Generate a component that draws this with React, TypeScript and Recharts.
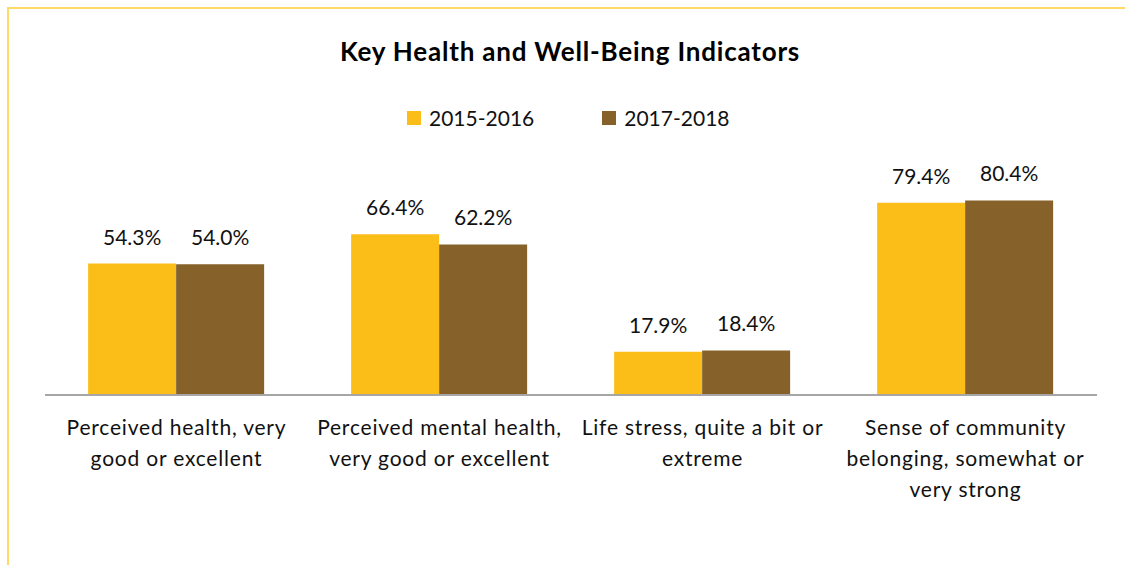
import { Bar, BarChart, LabelList, XAxis, YAxis } from 'recharts'

const categories = [
    'Perceived health, very\ngood or excellent',
    'Perceived mental health,\nvery good or excellent',
    'Life stress, quite a bit or\nextreme',
    'Sense of community\nbelonging, somewhat or\nvery strong'
]
const y2015 = [54.3, 66.4, 17.9, 79.4]
const y2017 = [54.0, 62.2, 18.4, 80.4]
const seriesNames = ['2015-2016', '2017-2018']
const colors = ['#FBBD18', '#86622A']

const data = categories.map((name, i) => ({ name, a: y2015[i], b: y2017[i] }))

const FONT = 'Lato, "Noto Sans", sans-serif'
const BORDER = '#FFD966'

const CategoryTick = ({ x, y, payload }: any) => {
    const lines = String(payload.value).split('\n')
    return (
        <text x={x} y={y} textAnchor="middle" fill="#111" fontSize={21} fontFamily={FONT} letterSpacing={0.8}>
            {lines.map((l, i) => (
                <tspan key={i} x={x} y={y + 32 + i * 31}>
                    {l}
                </tspan>
            ))}
        </text>
    )
}

const pct = (v: any) => `${Number(v).toFixed(1)}%`

export default function App() {
    return (
        <>
            {/* frame: only top and left edges show in the crop */}
            <div style={{ position: 'fixed', left: 7, top: 7, width: 1118, height: 2, background: BORDER }} />
            <div style={{ position: 'fixed', left: 7, top: 7, width: 2, height: 558, background: BORDER }} />
            <div
                style={{
                    position: 'relative',
                    marginLeft: 1,
                    marginTop: 1,
                    width: 1108,
                    height: 548,
                    overflow: 'hidden'
                }}
            >
                <div
                    style={{
                        position: 'absolute',
                        top: 26,
                        left: 0,
                        width: 1122,
                        textAlign: 'center',
                        fontFamily: FONT,
                        fontWeight: 700,
                        fontSize: 26,
                        letterSpacing: 0.8,
                        color: '#000'
                    }}
                >
                    Key Health and Well-Being Indicators
                </div>
                <div
                    style={{
                        position: 'absolute',
                        top: 96,
                        left: 398,
                        display: 'flex',
                        alignItems: 'center',
                        fontFamily: FONT,
                        fontSize: 21,
                        color: '#111',
                        lineHeight: '26px'
                    }}
                >
                    {seriesNames.map((s, i) => (
                        <div key={s} style={{ display: 'flex', alignItems: 'center', marginRight: i === 0 ? 68 : 0 }}>
                            <span
                                style={{
                                    width: 14,
                                    height: 14,
                                    background: colors[i],
                                    display: 'inline-block',
                                    marginRight: 8
                                }}
                            />
                            <span>{s}</span>
                        </div>
                    ))}
                </div>
                <BarChart
                    width={1116}
                    height={556}
                    data={data}
                    margin={{ top: 144, right: 28, left: 36, bottom: 60 }}
                    barCategoryGap="16.4%"
                    barGap={0}
                >
                    <XAxis
                        dataKey="name"
                        axisLine={{ stroke: '#A6A6A6', strokeWidth: 2 }}
                        tickLine={false}
                        tick={<CategoryTick />}
                        interval={0}
                        height={110}
                    />
                    <YAxis hide domain={[0, 100]} />
                    <Bar dataKey="a" name={seriesNames[0]} fill={colors[0]} isAnimationActive={false}>
                        <LabelList
                            dataKey="a"
                            position="top"
                            offset={19}
                            formatter={pct}
                            style={{ fontFamily: FONT, fontSize: 21, fill: '#111' }}
                        />
                    </Bar>
                    <Bar dataKey="b" name={seriesNames[1]} fill={colors[1]} isAnimationActive={false}>
                        <LabelList
                            dataKey="b"
                            position="top"
                            offset={19}
                            formatter={pct}
                            style={{ fontFamily: FONT, fontSize: 21, fill: '#111' }}
                        />
                    </Bar>
                </BarChart>
            </div>
        </>
    )
}
